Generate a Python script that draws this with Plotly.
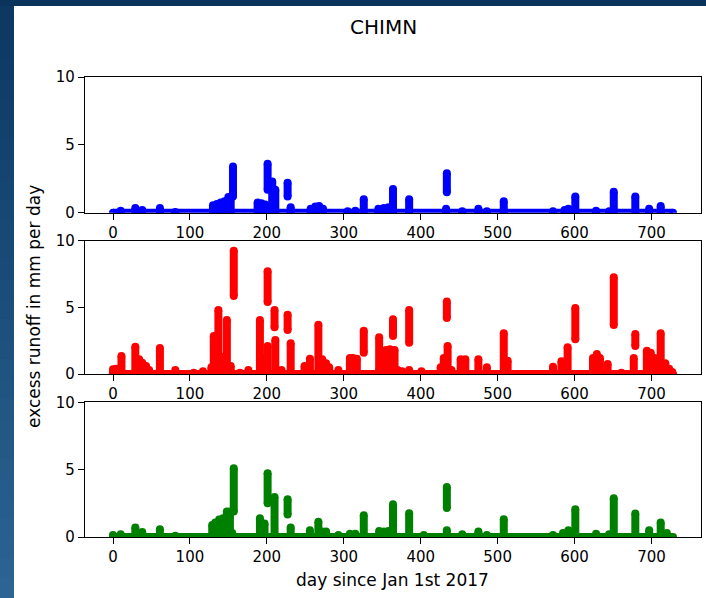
import plotly.graph_objects as go

# ---------------- data ----------------
# each event: day, lower value, upper value (mm/day) of the stacked dots
base_days = [0, 728]
base_vals = [0, 0]

blue_day = [10, 29, 38, 61, 81, 130, 135, 140, 145, 150, 153, 156, 188, 193, 198, 201, 207, 211,
            227, 231, 257, 263, 268, 273, 305, 315, 326, 345, 352, 358, 364, 385, 433, 434,
            454, 475, 486, 508, 572, 587, 592, 601, 628, 645, 651, 679, 697, 712]
blue_lo = [0, 0, 0, 0, 0, 0, 0, 0, 0, 0, 0, 1.2, 0, 0, 0, 1.7, 0, 0,
           1.2, 0, 0, 0, 0, 0, 0, 0, 0, 0, 0, 0, 0, 0, 0, 1.5,
           0, 0, 0, 0, 0, 0, 0, 0, 0, 0, 0, 0, 0, 0]
blue_hi = [0.15, 0.35, 0.2, 0.35, 0.05, 0.55, 0.65, 0.75, 0.85, 1.15, 1.2, 3.4, 0.75, 0.7, 0.6, 3.6, 2.3, 1.7,
           2.2, 0.4, 0.3, 0.45, 0.5, 0.3, 0.1, 0.15, 1.0, 0.3, 0.35, 0.4, 1.75, 1.0, 0.3, 2.9,
           0.1, 0.3, 0.1, 0.85, 0.1, 0.2, 0.3, 1.2, 0.15, 0.1, 1.55, 1.2, 0.3, 0.5]

red_day = [0, 4, 11, 29, 34, 38, 43, 47, 61, 81, 105, 117, 128, 131, 134, 137, 143, 148, 153, 157,
           165, 176, 191, 196, 201, 201, 210, 211, 219, 227, 231, 249, 256, 267, 272, 277, 281, 293,
           308, 312, 317, 326, 346, 355, 360, 366, 364, 370, 376, 385, 385, 401, 426, 430, 435, 434,
           440, 452, 458, 475, 486, 508, 513, 572, 583, 591, 601, 624, 629, 633, 643, 651, 661,
           677, 679, 694, 699, 704, 712, 718, 723, 727]
red_lo = [0, 0, 0, 0, 0, 0, 0, 0, 0, 0, 0, 0, 0, 0, 0, 0, 0, 0.6, 0, 5.85,
          0, 0, 0, 0, 0, 5.4, 3.5, 0, 0, 3.3, 0, 0, 0, 0, 0, 0, 0, 0,
          0, 0, 0, 1.6, 0.3, 0, 0, 0, 2.85, 0, 0, 2.35, 0, 0, 0, 0, 0, 4.2,
          0, 0, 0, 0, 0, 0, 0, 0, 0, 0, 2.6, 0, 0, 0, 0, 3.67, 0,
          0, 2.1, 0, 0, 0, 0, 0, 0, 0]
red_hi = [0.35, 0.4, 1.35, 2.05, 1.1, 0.85, 0.6, 0.3, 1.95, 0.3, 0.1, 0.2, 0.5, 2.85, 0.8, 4.8, 1.3, 4.05, 0.6, 9.25,
          0.1, 0.3, 4.05, 1.2, 2.1, 7.7, 4.8, 2.55, 0.3, 4.45, 2.3, 0.6, 1.15, 3.7, 1.1, 0.8, 0.5, 0.3,
          1.2, 1.2, 1.15, 3.25, 2.75, 1.8, 1.85, 1.8, 4.1, 0.3, 0.2, 4.8, 0.3, 0.2, 0.5, 1.2, 2.1, 5.43,
          0.3, 1.1, 1.1, 1.1, 0.5, 3.05, 1.0, 0.55, 0.95, 2.0, 4.95, 1.2, 1.5, 1.2, 0.75, 7.25, 0.1,
          1.2, 3.0, 1.75, 1.6, 1.2, 3.05, 0.8, 0.4, 0.15]

green_day = [0, 10, 29, 38, 61, 81, 129, 133, 138, 143, 148, 152, 155, 157, 191, 197, 201, 210,
             227, 231, 256, 267, 272, 277, 293, 308, 315, 326, 346, 352, 358, 364, 385, 404, 434, 434,
             454, 475, 486, 508, 572, 585, 592, 601, 628, 645, 651, 679, 697, 712, 720]
green_lo = [0, 0, 0, 0, 0, 0, 0, 0, 0, 0, 0, 0, 0, 1.9, 0, 0, 2.5, 0,
            1.67, 0, 0, 0, 0, 0, 0, 0, 0, 0, 0, 0, 0, 0, 0, 0, 0, 2.16,
            0, 0, 0, 0, 0, 0, 0, 0, 0, 0, 0, 0, 0, 0, 0]
green_hi = [0.15, 0.2, 0.7, 0.37, 0.57, 0.1, 0.9, 1.07, 1.3, 1.4, 1.9, 1.9, 0.3, 5.1, 1.4, 1.0, 4.74, 2.97,
            2.8, 0.7, 0.5, 1.14, 0.4, 0.4, 0.15, 0.25, 0.25, 1.61, 0.44, 0.4, 0.45, 2.43, 1.76, 0.15, 0.5, 3.72,
            0.2, 0.4, 0.15, 1.31, 0.15, 0.3, 0.5, 2.06, 0.25, 0.2, 2.88, 1.74, 0.5, 1.07, 0.3]

x_ticks = [0, 100, 200, 300, 400, 500, 600, 700]
y_ticks = [0, 5, 10]
title_text = "CHIMN"
x_label = "day since Jan 1st 2017"
y_label = "excess runoff in mm per day"

# ---------------- layout geometry (pixels) ----------------
W, H = 706, 598
L, R, T, B = 85, 701, 77, 537
pw, ph = R - L, B - T


def px(x):
    return (x - L) / pw


def py(y):
    return (B - y) / ph


FONT = "DejaVu Sans"
DOT = 8

fig = go.Figure()


def add_series(days, lo, hi, color, xa, ya):
    # baseline of near-zero daily values
    fig.add_trace(go.Scatter(x=base_days, y=base_vals, mode="lines+markers",
                             line=dict(color=color, width=DOT),
                             marker=dict(color=color, size=DOT),
                             xaxis=xa, yaxis=ya, showlegend=False, hoverinfo="skip"))
    xs, ys = [], []
    for d, a, b in zip(days, lo, hi):
        xs += [d, d, None]
        ys += [a, b, None]
    fig.add_trace(go.Scatter(x=xs, y=ys, mode="lines+markers",
                             line=dict(color=color, width=DOT),
                             marker=dict(color=color, size=DOT),
                             xaxis=xa, yaxis=ya, showlegend=False, connectgaps=False))


add_series(blue_day, blue_lo, blue_hi, "#0000ff", "x", "y")
add_series(red_day, red_lo, red_hi, "#ff0000", "x2", "y2")
add_series(green_day, green_lo, green_hi, "#008000", "x3", "y3")

axis_common = dict(showline=True, linecolor="black", linewidth=1.2, mirror=True,
                   showgrid=False, zeroline=False, ticks="outside", ticklen=6,
                   tickwidth=1.2, tickcolor="black", automargin=False,
                   tickfont=dict(family=FONT, size=15, color="black"))

domains = [(py(212.7), 1.0), (py(374), py(240.7)), (0.0, py(402.3))]
layout = dict(width=W, height=H, margin=dict(l=L, r=W - R, t=T, b=H - B, autoexpand=False),
              paper_bgcolor="white", plot_bgcolor="rgba(0,0,0,0)",
              font=dict(family=FONT, color="black"), showlegend=False)
for i, dom in enumerate(domains):
    sx = "" if i == 0 else str(i + 1)
    layout["xaxis" + sx] = dict(axis_common, domain=[0, 1], anchor="y" + sx,
                                range=[-36.4, 764.4], tickvals=x_ticks)
    layout["yaxis" + sx] = dict(axis_common, domain=list(dom), anchor="x" + sx,
                                range=[0, 10], tickvals=y_ticks)
fig.update_layout(**layout)

# blue window frame (screenshot border)
shapes = []
n = 30
top_c = (12, 56, 98)
bot_c = (44, 100, 148)
for k in range(n):
    t = k / (n - 1)
    c = tuple(int(top_c[j] + (bot_c[j] - top_c[j]) * t) for j in range(3))
    y0 = H * k / n
    y1 = H * (k + 1) / n + 1
    shapes.append(dict(type="rect", xref="paper", yref="paper",
                       x0=px(0), x1=px(14), y0=py(y1), y1=py(y0),
                       fillcolor="rgb(%d,%d,%d)" % c, line=dict(width=0), layer="below"))
shapes.append(dict(type="rect", xref="paper", yref="paper",
                   x0=px(0), x1=px(W), y0=py(6), y1=py(0),
                   fillcolor="rgb(10,52,92)", line=dict(width=0), layer="below"))
fig.update_layout(shapes=shapes)

fig.add_annotation(text=title_text, x=px(383), y=py(27), xref="paper", yref="paper",
                   showarrow=False, font=dict(family=FONT, size=20, color="black"),
                   xanchor="center", yanchor="middle")
fig.add_annotation(text=x_label, x=px(392), y=py(580), xref="paper", yref="paper",
                   showarrow=False, font=dict(family=FONT, size=17, color="black"),
                   xanchor="center", yanchor="middle")
fig.add_annotation(text=y_label, x=px(34), y=py(307), xref="paper", yref="paper",
                   showarrow=False, textangle=-90, font=dict(family=FONT, size=17, color="black"),
                   xanchor="center", yanchor="middle")

fig.write_html("out.html", config={"displayModeBar": False},
               post_script="document.body.style.margin='0px';document.body.style.overflow='hidden';")
